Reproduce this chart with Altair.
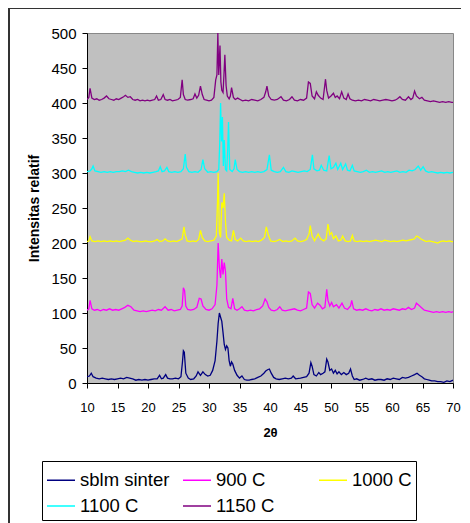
import altair as alt
import pandas as pd

series_names = ["sblm sinter", "900 C", "1000 C", "1100 C", "1150 C"]
series_colors = ["#000080", "#FF00FF", "#FFFF00", "#00FFFF", "#800080"]
x_ticks = list(range(10, 71, 5))
y_ticks = list(range(0, 501, 50))

# (2theta, intensity)
sblm_pts = [(10, 9), (10.4, 10), (10.7, 14), (11.0, 9), (11.5, 7), (12, 6), (12.5, 7), (13, 6), (13.5, 5), (14, 6),
            (14.5, 5), (15, 6), (15.5, 7), (16, 6), (16.5, 8), (17, 7), (17.5, 6), (18, 4), (18.5, 5), (19, 4),
            (19.5, 5), (20, 4), (20.5, 5), (21, 6), (21.5, 6), (21.9, 11), (22.2, 6), (22.5, 7), (22.9, 12), (23.2, 7),
            (23.6, 6), (24, 6), (24.5, 7), (25, 6), (25.4, 9), (25.65, 30), (25.8, 46), (25.95, 44), (26.2, 14), (26.6, 7),
            (27, 5), (27.5, 6), (27.9, 10), (28.2, 16), (28.6, 11), (29.0, 16), (29.4, 12), (29.8, 10), (30.2, 11),
            (30.6, 18), (31.0, 32), (31.3, 60), (31.5, 85), (31.7, 100), (31.9, 94), (32.1, 88), (32.3, 72), (32.5, 55),
            (32.7, 48), (32.9, 53), (33.1, 50), (33.3, 32), (33.5, 24), (33.7, 30), (33.9, 27), (34.2, 18), (34.6, 11),
            (35.0, 7), (35.4, 10), (35.8, 5), (36.2, 4), (36.6, 4), (37, 5), (37.5, 6), (38, 8), (38.5, 10), (39, 14),
            (39.3, 17), (39.6, 19), (39.9, 20), (40.2, 14), (40.6, 8), (41, 6), (41.5, 5), (42, 6), (42.5, 7), (43, 6),
            (43.5, 7), (43.8, 10), (44.2, 6), (45, 7), (45.5, 8), (46, 9), (46.4, 14), (46.7, 29), (46.9, 24), (47.2, 12),
            (47.6, 10), (48, 15), (48.3, 12), (48.7, 14), (49.0, 16), (49.3, 34), (49.5, 30), (49.8, 18), (50.1, 20),
            (50.4, 14), (50.7, 18), (51.0, 13), (51.3, 16), (51.7, 12), (52.1, 15), (52.5, 12), (52.9, 14), (53.2, 20),
            (53.5, 10), (53.8, 5), (54.2, 6), (54.7, 4), (55.2, 5), (55.7, 7), (56.2, 5), (56.7, 6), (57.2, 4), (57.7, 5),
            (58.2, 5), (58.7, 4), (59.2, 6), (59.7, 5), (60.2, 7), (60.7, 6), (61.2, 5), (61.7, 8), (62.2, 7), (62.7, 8),
            (63.2, 10), (63.7, 12), (64.1, 14), (64.5, 11), (64.9, 9), (65.3, 6), (65.7, 5), (66.1, 4), (66.5, 3), (67, 3),
            (67.5, 2), (68, 2), (68.5, 1), (69, 3), (69.5, 2), (70, 4)]

c900_pts = [(10, 104), (10.3, 106), (10.5, 118), (10.8, 106), (11.2, 104), (11.7, 105), (12.2, 103), (12.7, 105),
            (13.2, 104), (13.7, 106), (14.2, 104), (14.7, 105), (15.2, 104), (15.7, 106), (16.2, 108), (16.7, 111),
            (17.2, 109), (17.7, 104), (18.2, 103), (18.7, 102), (19.2, 103), (19.7, 102), (20.2, 103), (20.7, 104),
            (21.2, 103), (21.7, 105), (22.2, 104), (22.8, 109), (23.3, 104), (23.8, 105), (24.3, 103), (24.8, 104),
            (25.3, 105), (25.6, 110), (25.8, 136), (26.0, 132), (26.2, 110), (26.5, 105), (27, 104), (27.5, 105),
            (28, 108), (28.4, 121), (28.7, 120), (29.0, 110), (29.5, 105), (30, 104), (30.5, 106), (31.0, 112),
            (31.3, 140), (31.5, 200), (31.7, 165), (31.9, 150), (32.1, 177), (32.3, 155), (32.5, 172), (32.7, 160),
            (32.9, 120), (33.2, 108), (33.6, 106), (33.9, 121), (34.2, 106), (34.6, 104), (35.0, 106), (35.4, 109),
            (35.8, 104), (36.3, 103), (36.8, 104), (37.3, 103), (37.8, 105), (38.3, 106), (38.8, 110), (39.2, 120),
            (39.5, 116), (39.8, 108), (40.2, 104), (40.7, 103), (41.2, 105), (41.6, 109), (42.0, 104), (42.5, 103),
            (43, 104), (43.5, 105), (44, 106), (44.5, 104), (45, 103), (45.5, 105), (46, 107), (46.3, 130), (46.6, 128),
            (46.9, 112), (47.3, 107), (47.8, 114), (48.2, 111), (48.6, 106), (49.0, 108), (49.3, 134), (49.5, 118),
            (49.8, 110), (50.1, 115), (50.4, 109), (50.9, 112), (51.3, 107), (51.8, 114), (52.2, 107), (52.7, 105),
            (53.2, 110), (53.4, 118), (53.7, 106), (54.2, 104), (54.7, 105), (55.2, 104), (55.7, 106), (56.2, 104),
            (56.7, 103), (57.2, 105), (57.7, 104), (58.2, 106), (58.7, 104), (59.2, 105), (59.7, 104), (60.2, 106),
            (60.7, 105), (61.2, 104), (61.7, 106), (62.2, 105), (62.7, 108), (63.2, 105), (63.7, 107), (64.0, 114),
            (64.4, 111), (64.8, 108), (65.3, 104), (65.8, 103), (66.3, 102), (66.8, 101), (67.3, 102), (67.8, 101),
            (68.3, 102), (68.8, 101), (69.3, 102), (69.8, 101), (70, 102)]

c1000_pts = [(10, 202), (10.3, 203), (10.5, 209), (10.8, 203), (11.3, 202), (11.8, 203), (12.3, 202), (12.8, 203),
             (13.3, 202), (13.8, 203), (14.3, 202), (14.8, 203), (15.3, 202), (15.8, 203), (16.3, 204), (16.7, 207),
             (17.1, 204), (17.6, 202), (18.1, 203), (18.6, 202), (19.1, 202), (19.6, 203), (20.1, 202), (20.6, 202),
             (21.1, 203), (21.5, 205), (21.9, 202), (22.4, 203), (22.8, 206), (23.2, 203), (23.7, 202), (24.2, 203),
             (24.7, 202), (25.2, 204), (25.6, 206), (25.9, 223), (26.1, 212), (26.4, 203), (26.9, 202), (27.4, 203),
             (27.9, 202), (28.3, 205), (28.6, 218), (28.9, 208), (29.3, 203), (29.8, 202), (30.3, 203), (30.8, 204),
             (31.2, 210), (31.4, 260), (31.5, 300), (31.7, 215), (31.9, 208), (32.1, 258), (32.3, 250), (32.5, 271),
             (32.7, 230), (32.9, 208), (33.3, 204), (33.7, 203), (34.0, 218), (34.3, 205), (34.7, 203), (35.2, 207),
             (35.6, 203), (36.1, 202), (36.6, 203), (37.1, 202), (37.6, 203), (38.1, 202), (38.6, 204), (39.1, 208),
             (39.4, 223), (39.7, 212), (40.1, 203), (40.6, 202), (41.1, 203), (41.6, 205), (42.1, 202), (42.6, 203),
             (43.1, 202), (43.6, 203), (44.1, 207), (44.5, 203), (45, 202), (45.5, 203), (46, 205), (46.4, 213),
             (46.6, 225), (46.9, 210), (47.3, 203), (47.9, 213), (48.3, 206), (48.8, 203), (49.2, 206), (49.5, 227),
             (49.8, 212), (50.1, 215), (50.4, 206), (50.8, 210), (51.2, 203), (51.6, 204), (51.9, 210), (52.3, 203),
             (52.8, 202), (53.2, 203), (53.5, 211), (53.8, 203), (54.3, 202), (54.8, 203), (55.3, 202), (55.8, 203),
             (56.3, 202), (56.8, 203), (57.3, 204), (57.8, 203), (58.3, 202), (58.8, 204), (59.3, 203), (59.8, 202),
             (60.3, 203), (60.8, 202), (61.3, 203), (61.8, 204), (62.3, 203), (62.8, 204), (63.3, 205), (63.7, 206),
             (64.0, 210), (64.3, 209), (64.7, 206), (65.1, 204), (65.6, 202), (66.1, 203), (66.6, 202), (67.1, 201),
             (67.5, 200), (67.9, 202), (68.4, 203), (68.9, 202), (69.4, 203), (69.8, 202), (70, 202)]

c1100_pts = [(10, 302), (10.5, 303), (10.8, 306), (11.0, 310), (11.3, 303), (11.8, 302), (12.3, 301), (12.8, 302),
             (13.3, 301), (13.8, 302), (14.3, 301), (14.8, 302), (15.3, 302), (15.8, 303), (16.3, 302), (16.8, 304),
             (17.3, 302), (17.8, 301), (18.3, 300), (18.8, 301), (19.3, 300), (19.8, 301), (20.3, 300), (20.8, 301),
             (21.3, 302), (21.7, 303), (22.0, 309), (22.3, 302), (22.7, 303), (23.1, 308), (23.4, 302), (23.9, 301),
             (24.4, 302), (24.9, 301), (25.4, 302), (25.8, 306), (26.1, 327), (26.3, 308), (26.7, 302), (27.2, 301),
             (27.7, 302), (28.2, 301), (28.7, 305), (29.0, 319), (29.3, 306), (29.8, 301), (30.3, 302), (30.8, 301),
             (31.3, 302), (31.6, 305), (31.75, 340), (31.9, 400), (32.05, 345), (32.2, 380), (32.35, 310), (32.5, 347),
             (32.7, 305), (32.9, 303), (33.05, 330), (33.2, 373), (33.4, 305), (33.8, 302), (34.1, 306), (34.3, 319),
             (34.6, 305), (35.0, 302), (35.5, 301), (36, 302), (36.5, 301), (37, 302), (37.5, 301), (38, 302),
             (38.5, 301), (39, 302), (39.5, 305), (39.9, 326), (40.2, 304), (40.7, 302), (41.2, 301), (41.7, 302),
             (42.2, 308), (42.6, 302), (43.1, 301), (43.6, 303), (44.1, 302), (44.6, 301), (45.1, 302), (45.6, 303),
             (46.1, 302), (46.6, 305), (46.95, 326), (47.2, 306), (47.7, 303), (48.1, 304), (48.4, 311), (48.8, 304),
             (49.3, 303), (49.7, 325), (50.0, 306), (50.4, 308), (50.8, 314), (51.1, 305), (51.6, 314), (51.9, 305),
             (52.4, 313), (52.7, 304), (53.1, 303), (53.5, 311), (53.8, 303), (54.3, 302), (54.8, 301), (55.3, 302),
             (55.8, 304), (56.3, 301), (56.8, 302), (57.3, 301), (57.8, 302), (58.3, 303), (58.8, 301), (59.3, 302),
             (59.8, 301), (60.3, 302), (60.8, 303), (61.3, 301), (61.8, 302), (62.3, 301), (62.8, 304), (63.3, 303),
             (63.8, 305), (64.3, 310), (64.7, 304), (65.1, 309), (65.5, 303), (66, 301), (66.5, 302), (67, 301),
             (67.5, 300), (68, 301), (68.5, 300), (69, 301), (69.5, 300), (70, 301)]

c1150_pts = [(10, 405), (10.3, 408), (10.5, 421), (10.8, 407), (11.2, 405), (11.6, 406), (12.0, 404), (12.4, 405),
             (12.8, 407), (13.2, 410), (13.6, 406), (14.0, 405), (14.4, 404), (14.8, 406), (15.2, 405), (15.6, 407),
             (16.0, 409), (16.3, 411), (16.7, 408), (17.1, 409), (17.5, 405), (17.9, 404), (18.3, 405), (18.7, 403),
             (19.1, 404), (19.5, 403), (19.9, 404), (20.3, 403), (20.7, 404), (21.1, 405), (21.4, 410), (21.7, 404),
             (22.1, 405), (22.5, 412), (22.8, 405), (23.2, 404), (23.6, 405), (24, 403), (24.5, 404), (24.9, 405),
             (25.3, 408), (25.6, 433), (25.8, 412), (26.1, 405), (26.5, 404), (27.0, 405), (27.4, 406), (27.7, 413),
             (28.0, 407), (28.3, 411), (28.6, 424), (28.9, 412), (29.2, 405), (29.6, 404), (30.0, 403), (30.4, 404),
             (30.8, 408), (31.1, 433), (31.3, 440), (31.45, 500), (31.6, 440), (31.8, 482), (31.95, 430), (32.1, 418),
             (32.3, 415), (32.45, 440), (32.6, 469), (32.8, 425), (33.0, 410), (33.3, 406), (33.5, 410), (33.7, 422),
             (34.0, 408), (34.3, 405), (34.7, 407), (35.1, 405), (35.5, 403), (36, 404), (36.5, 403), (37, 405),
             (37.5, 404), (38, 403), (38.5, 405), (39.0, 408), (39.3, 416), (39.5, 424), (39.8, 410), (40.2, 405),
             (40.7, 404), (41.2, 405), (41.8, 409), (42.2, 404), (42.7, 403), (43.2, 405), (43.6, 409), (44.0, 404),
             (44.5, 403), (45.0, 405), (45.5, 404), (46.0, 407), (46.3, 430), (46.6, 428), (46.9, 410), (47.3, 406),
             (47.6, 416), (47.9, 411), (48.3, 407), (48.7, 405), (49.1, 434), (49.3, 418), (49.6, 407), (50.0, 410),
             (50.4, 414), (50.7, 408), (51.0, 410), (51.4, 406), (51.75, 416), (52.1, 407), (52.5, 405), (52.8, 413),
             (53.1, 406), (53.5, 404), (54, 403), (54.5, 404), (55, 403), (55.5, 405), (56, 404), (56.5, 403),
             (57, 405), (57.5, 404), (58, 403), (58.5, 404), (59, 405), (59.5, 404), (60, 403), (60.5, 404),
             (60.9, 406), (61.3, 409), (61.7, 405), (62.2, 404), (62.7, 409), (63.1, 405), (63.4, 407), (63.7, 417),
             (64.0, 410), (64.5, 406), (64.9, 408), (65.3, 404), (65.8, 403), (66.3, 402), (66.8, 403), (67.3, 402),
             (67.8, 401), (68.3, 402), (68.8, 401), (69.3, 402), (69.8, 401), (70, 401)]

all_pts = [sblm_pts, c900_pts, c1000_pts, c1100_pts, c1150_pts]
rows = []
for name, pts in zip(series_names, all_pts):
    for x, y in pts:
        rows.append({"theta2": x, "intensity": y, "series": name})
df = pd.DataFrame(rows)

lines = alt.Chart(df).mark_line(strokeWidth=1.3, clip=True).encode(
    x=alt.X("theta2:Q",
            scale=alt.Scale(domain=[10, 70], nice=False, zero=False),
            axis=alt.Axis(values=x_ticks, title="2θ", grid=False, labelFontSize=13,
                          labelPadding=13, tickSize=5, titleFontSize=13, titleFontWeight="bold",
                          titlePadding=12, labelFlush=False, labelOverlap=False,
                          domainColor="#000000", tickColor="#000000", labelColor="#000000")),
    y=alt.Y("intensity:Q",
            scale=alt.Scale(domain=[0, 500], nice=False),
            axis=alt.Axis(values=y_ticks, title="Intensitas relatif", grid=False, labelFontSize=15,
                          labelPadding=6, tickSize=5, titleFontSize=14, titleFontWeight="bold",
                          titlePadding=9, labelOverlap=False,
                          domainColor="#000000", tickColor="#000000", labelColor="#000000")),
    color=alt.Color("series:N",
                    scale=alt.Scale(domain=series_names, range=series_colors),
                    legend=alt.Legend(title=None, orient="none", legendX=-45, legendY=428,
                                      columns=3, direction="horizontal", gridAlign="all",
                                      columnPadding=10, rowPadding=1, padding=4,
                                      strokeColor="#000000", fillColor="#FFFFFF",
                                      symbolType="stroke", symbolSize=784, symbolStrokeWidth=1.5,
                                      labelFontSize=18.5, labelOffset=4, labelColor="#000000",
                                      labelLimit=300)),
    order=alt.Order("theta2:Q"),
)

frame = alt.Chart(df).mark_rect(fillOpacity=0, stroke="#333333", strokeWidth=2).encode(
    x=alt.value(-78), x2=alt.value(400), y=alt.value(-25), y2=alt.value(500)
).transform_filter("datum.theta2 == 10 && datum.series == 'sblm sinter'")

chart = alt.layer(lines, frame).properties(
    width=366, height=350,
    padding={"left": 79, "top": 25, "right": 8, "bottom": 140},
    autosize=alt.AutoSizeParams(type="none"),
    background="#FFFFFF",
).configure_view(fill="#C0C0C0", stroke="#888888", strokeWidth=1).configure_axis(
    labelFont="Liberation Sans", titleFont="Liberation Sans"
).configure_legend(labelFont="Liberation Sans")

chart.save("out.html", embed_options={"renderer": "svg", "actions": False})
